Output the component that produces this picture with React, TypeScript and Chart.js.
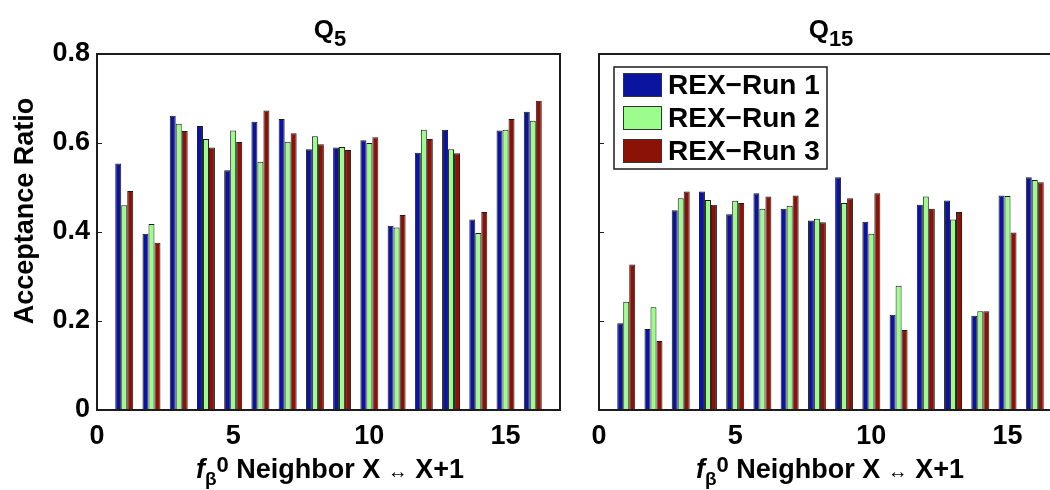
import React, { useEffect, useRef } from "react";
import { Chart, registerables } from "chart.js";

Chart.register(...registerables);

// Neighbor pair index X (exchange between replica X and X+1)
const neighbors = [1, 2, 3, 4, 5, 6, 7, 8, 9, 10, 11, 12, 13, 14, 15, 16];

const runLabels = ["REX\u2212Run 1", "REX\u2212Run 2", "REX\u2212Run 3"];
const runColors = ["#0a149e", "#9cfc8c", "#8a1206"];

// Acceptance ratios, Q5
const q5Run1 = [0.554, 0.396, 0.661, 0.638, 0.539, 0.648, 0.654, 0.586, 0.59, 0.606, 0.414, 0.578, 0.63, 0.428, 0.628, 0.67];
const q5Run2 = [0.46, 0.418, 0.643, 0.609, 0.628, 0.558, 0.603, 0.615, 0.591, 0.6, 0.41, 0.63, 0.586, 0.398, 0.63, 0.65];
const q5Run3 = [0.492, 0.376, 0.627, 0.59, 0.602, 0.673, 0.622, 0.597, 0.584, 0.613, 0.438, 0.609, 0.577, 0.445, 0.654, 0.695];

// Acceptance ratios, Q15
const q15Run1 = [0.195, 0.182, 0.449, 0.491, 0.44, 0.487, 0.452, 0.426, 0.523, 0.423, 0.214, 0.461, 0.471, 0.212, 0.482, 0.523];
const q15Run2 = [0.243, 0.231, 0.476, 0.472, 0.47, 0.452, 0.459, 0.43, 0.465, 0.396, 0.279, 0.48, 0.428, 0.222, 0.481, 0.517];
const q15Run3 = [0.327, 0.155, 0.491, 0.461, 0.465, 0.48, 0.482, 0.422, 0.476, 0.487, 0.18, 0.452, 0.445, 0.222, 0.399, 0.512];

const yTicks = [0, 0.2, 0.4, 0.6, 0.8];
const xTicks = [0, 5, 10, 15];

const FONT = "'Liberation Sans', Arial, Helvetica, sans-serif";
const TEXT_SIZE = 27;

// Box around the plotting area plus short inward tick marks on the left side
const framePlugin = {
  id: "frameBox",
  afterDatasetsDraw(chart: any) {
    const { ctx, chartArea: a, scales } = chart;
    ctx.save();
    ctx.strokeStyle = "#1c1c1c";
    ctx.lineWidth = 1;
    for (const v of yTicks) {
      const y = Math.round(scales.y.getPixelForValue(v)) + 0.5;
      ctx.beginPath();
      ctx.moveTo(a.left, y);
      ctx.lineTo(a.left + 5, y);
      ctx.stroke();
    }
    ctx.lineWidth = 2;
    ctx.strokeRect(a.left, a.top, a.right - a.left, a.bottom - a.top);
    ctx.restore();
  },
};

// Boxed legend drawn inside the upper-left corner of the plotting area
const insetLegendPlugin = {
  id: "insetLegend",
  afterDraw(chart: any) {
    const { ctx, chartArea: a } = chart;
    const x0 = a.left + 15;
    const y0 = a.top + 13;
    const w = 213;
    const rowH = 33;
    const h = rowH * chart.data.datasets.length + 3;
    ctx.save();
    ctx.fillStyle = "#ffffff";
    ctx.fillRect(x0, y0, w, h);
    ctx.strokeStyle = "#1c1c1c";
    ctx.lineWidth = 1.5;
    ctx.strokeRect(x0, y0, w, h);
    ctx.font = `bold 28px ${FONT}`;
    ctx.textBaseline = "middle";
    chart.data.datasets.forEach((ds: any, i: number) => {
      const cy = y0 + 18 + i * rowH;
      ctx.fillStyle = ds.backgroundColor;
      ctx.fillRect(x0 + 9, cy - 12, 39, 24);
      ctx.lineWidth = 1;
      ctx.strokeStyle = "#333";
      ctx.strokeRect(x0 + 9.5, cy - 11.5, 38, 23);
      ctx.fillStyle = "#000";
      ctx.fillText(ds.label, x0 + 54, cy + 1);
    });
    ctx.restore();
  },
};

type PanelProps = {
  series: number[][];
  yAxisWidth: number;
  padRight: number;
  showYLabels: boolean;
  withLegend: boolean;
  width: number;
  height: number;
};

function BarPanel({ series, yAxisWidth, padRight, showYLabels, withLegend, width, height }: PanelProps) {
  const ref = useRef<HTMLCanvasElement | null>(null);

  useEffect(() => {
    if (!ref.current) return;
    const datasets = series.map((vals, k) => ({
      label: runLabels[k],
      data: neighbors.map((x, i) => ({ x, y: vals[i] })),
      backgroundColor: runColors[k],
      borderColor: "#1a1a1a",
      borderWidth: 1,
      barPercentage: 1,
      categoryPercentage: 0.66,
    }));
    const plugins: any[] = [framePlugin];
    if (withLegend) plugins.push(insetLegendPlugin);

    const chart = new Chart(ref.current, {
      type: "bar",
      data: { datasets },
      plugins,
      options: {
        responsive: false,
        animation: false,
        events: [],
        layout: { padding: { top: 54, right: padRight, left: 0, bottom: 0 } },
        plugins: {
          legend: { display: false },
          tooltip: { enabled: false },
          title: { display: false },
        },
        scales: {
          x: {
            type: "linear",
            min: 0,
            max: 17,
            offset: false,
            grid: { display: false, drawTicks: false },
            border: { display: false },
            afterBuildTicks(scale: any) {
              scale.ticks = xTicks.map((v) => ({ value: v }));
            },
            afterFit(scale: any) {
              scale.height = 80;
            },
            ticks: {
              autoSkip: false,
              maxRotation: 0,
              padding: 10,
              color: "#000",
              font: { family: FONT, size: TEXT_SIZE, weight: "bold" },
            },
          },
          y: {
            min: 0,
            max: 0.8,
            grid: { display: false, drawTicks: false },
            border: { display: false },
            afterBuildTicks(scale: any) {
              scale.ticks = yTicks.map((v) => ({ value: v }));
            },
            afterFit(scale: any) {
              scale.width = yAxisWidth;
            },
            ticks: {
              display: showYLabels,
              padding: 7,
              color: "#000",
              font: { family: FONT, size: TEXT_SIZE, weight: "bold" },
              callback: (v: any) => (Number(v) === 0 ? "0" : Number(v).toFixed(1)),
            },
          },
        },
      } as any,
    });
    return () => chart.destroy();
  }, [series, yAxisWidth, padRight, showYLabels, withLegend]);

  return <canvas ref={ref} width={width} height={height} style={{ width, height, display: "block" }} />;
}

const textStyle: React.CSSProperties = {
  position: "absolute",
  fontFamily: FONT,
  fontWeight: "bold",
  fontSize: TEXT_SIZE,
  color: "#000",
  whiteSpace: "nowrap",
  lineHeight: 1,
};

function PanelTitle({ sub, cx }: { sub: string; cx: number }) {
  return (
    <div style={{ ...textStyle, left: cx - 100, width: 200, top: 16, fontSize: 26, textAlign: "center" }}>
      Q<span style={{ fontSize: 22, position: "relative", top: 8 }}>{sub}</span>
    </div>
  );
}

function XAxisLabel({ cx }: { cx: number }) {
  return (
    <div style={{ ...textStyle, left: cx - 200, width: 400, top: 456, textAlign: "center" }}>
      <i>f</i>
      <span style={{ fontSize: 19, position: "relative", top: 7 }}>β</span>
      <span style={{ fontSize: 22, position: "relative", top: -6 }}>0</span> Neighbor X{" "}
      <span style={{ fontWeight: "normal", fontSize: 20 }}>↔</span> X+1
    </div>
  );
}

export default function App() {
  return (
    <div
      style={{
        position: "fixed",
        left: 0,
        top: 0,
        width: 1050,
        height: 490,
        overflow: "hidden",
        background: "#fff",
      }}
    >
      <div style={{ position: "absolute", left: 0, top: 0 }}>
        <BarPanel
          series={[q5Run1, q5Run2, q5Run3]}
          yAxisWidth={97}
          padRight={20}
          showYLabels={true}
          withLegend={false}
          width={580}
          height={490}
        />
      </div>
      <div style={{ position: "absolute", left: 580, top: 0 }}>
        <BarPanel
          series={[q15Run1, q15Run2, q15Run3]}
          yAxisWidth={19}
          padRight={18}
          showYLabels={false}
          withLegend={true}
          width={500}
          height={490}
        />
      </div>
      <PanelTitle sub="5" cx={330} />
      <PanelTitle sub="15" cx={831} />
      <XAxisLabel cx={330} />
      <XAxisLabel cx={830} />
      <div
        style={{
          ...textStyle,
          left: 24 - 150,
          top: 211 - 15,
          width: 300,
          height: 30,
          textAlign: "center",
          lineHeight: "30px",
          transform: "rotate(-90deg)",
        }}
      >
        Acceptance Ratio
      </div>
    </div>
  );
}
